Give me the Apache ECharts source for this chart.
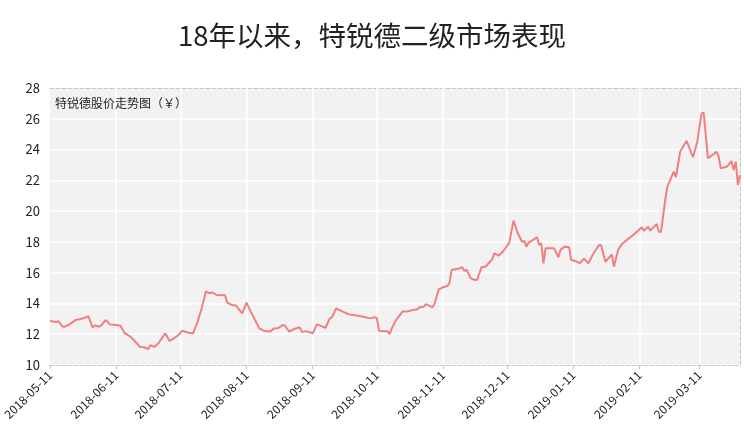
<!DOCTYPE html>
<html>
<head>
<meta charset="utf-8">
<script src="https://cdn.jsdelivr.net/npm/echarts@6/dist/echarts.min.js"></script>
<style>html,body{margin:0;padding:0;background:#fff}#c{width:744px;height:435px}</style>
</head>
<body>
<div id="c"></div>
<script>
const titleText = '18年以来，特锐德二级市场表现';
const seriesName = '特锐德股价走势图（￥）';
const dates = [
'2018-05-11','2018-05-14','2018-05-15','2018-05-17','2018-05-18','2018-05-20','2018-05-23','2018-05-25','2018-05-28','2018-05-29','2018-05-31',
'2018-06-01','2018-06-03','2018-06-04','2018-06-06','2018-06-07','2018-06-08','2018-06-11','2018-06-13','2018-06-15','2018-06-16','2018-06-18','2018-06-20','2018-06-22','2018-06-24','2018-06-26','2018-06-27','2018-06-29',
'2018-07-01','2018-07-02','2018-07-04','2018-07-06','2018-07-08','2018-07-10','2018-07-12','2018-07-15','2018-07-17','2018-07-19','2018-07-21','2018-07-23','2018-07-25','2018-07-26','2018-07-28',
'2018-08-01','2018-08-02','2018-08-04','2018-08-06','2018-08-09','2018-08-11','2018-08-13','2018-08-15','2018-08-17','2018-08-19','2018-08-22','2018-08-24','2018-08-26','2018-08-28','2018-08-29','2018-08-31',
'2018-09-02','2018-09-05','2018-09-06','2018-09-08','2018-09-11','2018-09-13','2018-09-15','2018-09-17','2018-09-19','2018-09-20','2018-09-22','2018-09-25','2018-09-28',
'2018-10-03','2018-10-08','2018-10-10','2018-10-11','2018-10-12','2018-10-14','2018-10-16','2018-10-17','2018-10-18','2018-10-20','2018-10-23','2018-10-25','2018-10-28','2018-10-30','2018-10-31',
'2018-11-02','2018-11-03','2018-11-05','2018-11-06','2018-11-07','2018-11-09','2018-11-11','2018-11-13','2018-11-14','2018-11-15','2018-11-18','2018-11-20','2018-11-21','2018-11-22','2018-11-24','2018-11-26','2018-11-27','2018-11-29',
'2018-12-01','2018-12-04','2018-12-05','2018-12-07','2018-12-09','2018-12-11','2018-12-12','2018-12-14','2018-12-16','2018-12-18','2018-12-19','2018-12-20','2018-12-21','2018-12-23','2018-12-25','2018-12-26','2018-12-27','2018-12-28','2018-12-29',
'2019-01-02','2019-01-04','2019-01-05','2019-01-07','2019-01-09','2019-01-10','2019-01-12','2019-01-14','2019-01-16','2019-01-18','2019-01-20','2019-01-23','2019-01-24','2019-01-26','2019-01-29','2019-01-30',
'2019-02-01','2019-02-03','2019-02-06','2019-02-09','2019-02-12','2019-02-13','2019-02-15','2019-02-16','2019-02-19','2019-02-20','2019-02-21','2019-02-23','2019-02-24','2019-02-27','2019-02-28',
'2019-03-02','2019-03-05','2019-03-08','2019-03-10','2019-03-12','2019-03-13','2019-03-15','2019-03-17','2019-03-19','2019-03-20','2019-03-21','2019-03-24','2019-03-26','2019-03-27','2019-03-28','2019-03-29','2019-03-30'
];
const prices = [
12.86,12.80,12.84,12.49,12.49,12.62,12.92,12.97,13.10,13.18,12.42,
12.58,12.49,12.56,12.92,12.82,12.64,12.60,12.55,12.06,12.00,11.80,11.51,11.19,11.15,11.04,11.28,11.19,
11.45,11.67,12.06,11.56,11.73,11.93,12.23,12.10,12.06,12.75,13.68,14.76,14.66,14.72,14.55,
14.53,14.05,13.90,13.87,13.36,14.05,13.47,12.92,12.38,12.23,12.17,12.38,12.41,12.60,12.55,12.17,
12.32,12.45,12.14,12.20,12.06,12.66,12.53,12.42,13.03,13.10,13.68,13.47,13.29,
13.18,13.03,13.10,13.06,12.23,12.20,12.20,12.01,12.38,12.92,13.47,13.47,13.57,13.62,13.75,
13.79,13.96,13.83,13.75,13.96,14.92,15.05,15.13,15.31,16.17,16.25,16.35,16.10,16.20,15.63,15.52,15.55,16.35,
16.40,16.87,17.25,17.10,17.36,17.75,17.95,19.38,18.56,18.01,18.06,17.69,17.95,18.12,18.30,17.80,17.90,16.61,17.58,
17.58,17.00,17.50,17.69,17.66,16.82,16.76,16.61,16.91,16.61,17.15,17.80,17.78,16.71,17.18,16.39,
17.50,17.90,18.23,18.56,18.95,18.73,18.99,18.73,19.16,18.66,18.64,20.72,21.59,22.56,22.20,
23.86,24.57,23.50,24.51,26.35,26.40,23.43,23.64,23.86,23.55,22.78,22.90,23.25,22.67,23.21,21.70,22.35
];
const tickDates = ['2018-05-11','2018-06-11','2018-07-11','2018-08-11','2018-09-11','2018-10-11','2018-11-11','2018-12-11','2019-01-11','2019-02-11','2019-03-11'];

function pad(n){return n<10?'0'+n:''+n;}
function ts(s){const p=s.split('-');return new Date(+p[0],+p[1]-1,+p[2]).getTime();}
function fmt(v){const d=new Date(Math.round(v));return d.getFullYear()+'-'+pad(d.getMonth()+1)+'-'+pad(d.getDate());}

const tickTs = tickDates.map(ts);
const chart = echarts.init(document.getElementById('c'));
chart.setOption({
  animation:false,
  backgroundColor:'#fff',
  textStyle:{fontFamily:'"Noto Sans CJK SC","Noto Sans",sans-serif'},
  title:[
    {text:titleText,left:'center',top:17,textStyle:{fontSize:27.5,fontWeight:'normal',color:'#222',fontFamily:'"Noto Sans CJK SC",sans-serif'}},
    {text:seriesName,left:50,top:92,textStyle:{fontSize:12,fontWeight:'normal',color:'#222',fontFamily:'"Noto Sans CJK SC",sans-serif'}}
  ],
  grid:{left:46,right:4,top:88,bottom:70,show:true,backgroundColor:'#f2f2f2',borderWidth:0},
  xAxis:[{
    type:'value',min:ts(dates[0]),max:ts(dates[dates.length-1]),
    axisLine:{show:true,onZero:false,lineStyle:{color:'#c8c8c8',type:'dashed',width:1}},
    axisTick:{show:true,customValues:tickTs,length:4,lineStyle:{color:'#c8c8c8'}},
    axisLabel:{customValues:tickTs,rotate:45,fontSize:12,color:'#222',margin:8,formatter:fmt,hideOverlap:false,showMinLabel:true,showMaxLabel:true},
    splitLine:{show:false}
  },{
    type:'value',position:'top',min:0,max:1,
    axisLine:{show:true,onZero:false,lineStyle:{color:'#c8c8c8',type:'dashed',width:1}},
    axisTick:{show:false},axisLabel:{show:false},splitLine:{show:false}
  }],
  yAxis:[{
    type:'value',min:10,max:28,interval:2,
    axisLine:{show:false},axisTick:{show:false},
    axisLabel:{fontSize:13,color:'#222',margin:10},
    splitLine:{show:true,lineStyle:{color:'#ffffff',width:1.5}}
  },{
    type:'value',position:'right',min:0,max:1,
    axisLine:{show:true,onZero:false,lineStyle:{color:'#c8c8c8',type:'dashed',width:1}},
    axisTick:{show:false},axisLabel:{show:false},splitLine:{show:false}
  }],
  series:[{
    name:'grid-x',type:'line',xAxisIndex:0,yAxisIndex:0,data:[],z:1,silent:true,
    markLine:{silent:true,symbol:'none',label:{show:false},animation:false,
      lineStyle:{color:'#ffffff',width:1.5,type:'solid'},
      data:tickTs.slice(1).map(t=>({xAxis:t}))}
  },{
    name:seriesName,type:'line',xAxisIndex:0,yAxisIndex:0,
    data:dates.map((d,i)=>[ts(d),prices[i]]),
    showSymbol:false,symbol:'none',
    lineStyle:{color:'#f08080',width:2},
    itemStyle:{color:'#f08080'},
    z:5
  }]
});
</script>
</body>
</html>
